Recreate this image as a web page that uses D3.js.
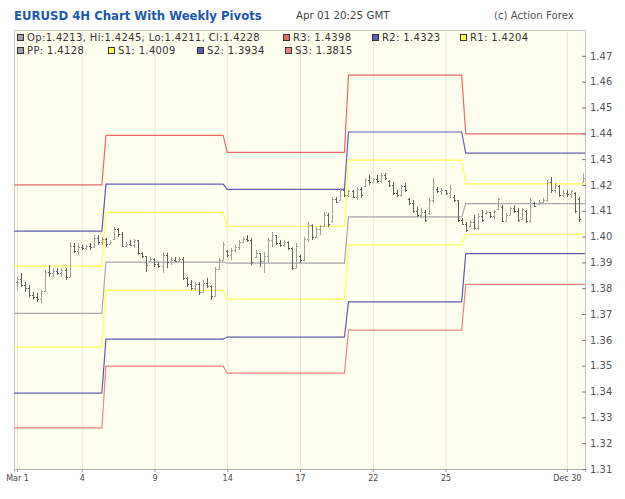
<!DOCTYPE html>
<html>
<head>
<meta charset="utf-8">
<script src="https://cdn.jsdelivr.net/npm/d3@7"></script>
<style>
    body { margin: 0; background: #fff; }
    text { font-family: Verdana, "DejaVu Sans", sans-serif; }
</style>
</head>
<body>
<div id="chart"></div>
<script>
// 4H bars: [open, high, low, close]
var bars = [
    [1.3825,1.3844,1.3793,1.3836],[1.3836,1.3859,1.3805,1.3812],[1.3812,1.3824,1.3786,1.3800],[1.3800,1.3813,1.3766,1.3772],
    [1.3772,1.3786,1.3755,1.3765],[1.3765,1.3782,1.3747,1.3760],[1.3760,1.3793,1.3743,1.3788],[1.3788,1.3871,1.3786,1.3862],
    [1.3862,1.3890,1.3844,1.3858],[1.3858,1.3878,1.3844,1.3865],[1.3865,1.3878,1.3851,1.3860],[1.3860,1.3878,1.3844,1.3870],
    [1.3870,1.3878,1.3832,1.3845],[1.3845,1.3979,1.3840,1.3965],[1.3965,1.3975,1.3937,1.3945],[1.3945,1.3975,1.3929,1.3960],
    [1.3960,1.3968,1.3948,1.3955],[1.3955,1.3968,1.3948,1.3962],[1.3962,1.3975,1.3948,1.3958],[1.3958,1.4006,1.3956,1.3995],
    [1.3995,1.4006,1.3968,1.3980],[1.3980,1.3999,1.3968,1.3990],[1.3990,1.3995,1.3960,1.3970],[1.3970,1.3987,1.3968,1.3980],
    [1.3990,1.4037,1.3987,1.4030],[1.4030,1.4033,1.3999,1.4010],[1.4010,1.4018,1.3960,1.3965],[1.3965,1.3979,1.3960,1.3970],
    [1.3970,1.3987,1.3964,1.3968],[1.3968,1.3991,1.3956,1.3985],[1.3985,1.3987,1.3929,1.3935],[1.3935,1.3940,1.3917,1.3925],
    [1.3925,1.3925,1.3863,1.3890],[1.3905,1.3921,1.3902,1.3915],[1.3915,1.3917,1.3882,1.3895],[1.3895,1.3902,1.3878,1.3885],
    [1.3885,1.3940,1.3859,1.3930],[1.3930,1.3937,1.3878,1.3900],[1.3900,1.3921,1.3890,1.3910],[1.3910,1.3921,1.3902,1.3905],
    [1.3905,1.3921,1.3902,1.3915],[1.3915,1.3921,1.3832,1.3840],[1.3840,1.3844,1.3805,1.3815],[1.3815,1.3832,1.3793,1.3800],
    [1.3800,1.3824,1.3793,1.3815],[1.3815,1.3824,1.3774,1.3785],[1.3785,1.3832,1.3783,1.3820],[1.3820,1.3840,1.3801,1.3810],
    [1.3810,1.3812,1.3755,1.3770],[1.3770,1.3882,1.3768,1.3875],[1.3875,1.3917,1.3871,1.3910],[1.3910,1.3979,1.3908,1.3970],
    [1.3945,1.3948,1.3921,1.3930],[1.3930,1.3956,1.3909,1.3950],[1.3950,1.3968,1.3937,1.3960],[1.3960,1.3987,1.3948,1.3980],
    [1.3980,1.3999,1.3975,1.3990],[1.3990,1.4006,1.3979,1.3985],[1.3985,1.3995,1.3890,1.3900],[1.3920,1.3948,1.3917,1.3935],
    [1.3935,1.3937,1.3882,1.3905],[1.3905,1.3940,1.3859,1.3925],[1.3925,1.3995,1.3898,1.3985],[1.3985,1.4018,1.3960,1.4005],
    [1.4005,1.4006,1.3968,1.3975],[1.3975,1.3987,1.3960,1.3968],[1.3968,1.3987,1.3960,1.3980],[1.3980,1.3982,1.3948,1.3955],
    [1.3955,1.3958,1.3871,1.3880],[1.3880,1.3975,1.3878,1.3965],[1.3925,1.3929,1.3898,1.3910],[1.3910,1.3999,1.3905,1.3990],
    [1.3990,1.4057,1.3979,1.4045],[1.4045,1.4048,1.3987,1.4000],[1.4000,1.4037,1.3995,1.4030],[1.4030,1.4045,1.4006,1.4040],
    [1.4040,1.4095,1.4037,1.4085],[1.4085,1.4091,1.4037,1.4050],[1.4060,1.4153,1.4053,1.4145],[1.4145,1.4153,1.4130,1.4135],
    [1.4140,1.4188,1.4138,1.4180],[1.4180,1.4192,1.4153,1.4160],[1.4160,1.4181,1.4153,1.4175],[1.4175,1.4181,1.4150,1.4155],
    [1.4155,1.4192,1.4142,1.4185],[1.4185,1.4192,1.4150,1.4160],[1.4195,1.4227,1.4192,1.4220],[1.4220,1.4239,1.4200,1.4210],
    [1.4210,1.4227,1.4208,1.4222],[1.4222,1.4239,1.4208,1.4215],[1.4215,1.4246,1.4208,1.4240],[1.4240,1.4246,1.4219,1.4225],
    [1.4215,1.4219,1.4192,1.4200],[1.4200,1.4212,1.4161,1.4170],[1.4170,1.4181,1.4153,1.4160],[1.4160,1.4200,1.4153,1.4195],
    [1.4195,1.4208,1.4173,1.4180],[1.4145,1.4150,1.4122,1.4130],[1.4130,1.4142,1.4091,1.4100],[1.4100,1.4115,1.4076,1.4085],
    [1.4085,1.4111,1.4072,1.4095],[1.4095,1.4103,1.4057,1.4065],[1.4090,1.4150,1.4084,1.4140],[1.4140,1.4227,1.4130,1.4210],
    [1.4185,1.4192,1.4169,1.4175],[1.4175,1.4188,1.4161,1.4180],[1.4180,1.4181,1.4161,1.4170],[1.4170,1.4200,1.4150,1.4190],
    [1.4155,1.4161,1.4134,1.4140],[1.4140,1.4142,1.4057,1.4065],[1.4065,1.4072,1.4045,1.4050],[1.4050,1.4057,1.4018,1.4025],
    [1.4040,1.4064,1.4037,1.4055],[1.4055,1.4084,1.4026,1.4035],[1.4035,1.4091,1.4026,1.4080],[1.4080,1.4103,1.4057,1.4065],
    [1.4090,1.4103,1.4084,1.4095],[1.4095,1.4095,1.4072,1.4080],[1.4080,1.4103,1.4064,1.4100],[1.4105,1.4150,1.4103,1.4145],
    [1.4115,1.4122,1.4057,1.4060],[1.4060,1.4091,1.4057,1.4085],[1.4085,1.4115,1.4084,1.4110],[1.4110,1.4122,1.4091,1.4100],
    [1.4100,1.4111,1.4057,1.4065],[1.4070,1.4111,1.4068,1.4105],[1.4100,1.4103,1.4053,1.4060],[1.4060,1.4150,1.4053,1.4140],
    [1.4130,1.4134,1.4115,1.4120],[1.4125,1.4142,1.4122,1.4135],[1.4135,1.4150,1.4130,1.4140],[1.4140,1.4219,1.4134,1.4210],
    [1.4210,1.4231,1.4169,1.4180],[1.4180,1.4208,1.4169,1.4200],[1.4195,1.4200,1.4153,1.4160],[1.4160,1.4181,1.4153,1.4170],
    [1.4170,1.4181,1.4153,1.4165],[1.4165,1.4181,1.4150,1.4175],[1.4170,1.4172,1.4091,1.4100],[1.4145,1.4153,1.4057,1.4070],
    [1.4213,1.4245,1.4211,1.4228]
];

// weekly pivot levels, one value per week, weeks begin at these bar numbers
var weekStarts = [0, 22, 52, 82, 111];
var r3 = [1.4200, 1.4392, 1.4326, 1.4625, 1.4398];
var r2 = [1.4021, 1.4203, 1.4183, 1.4405, 1.4323];
var r1 = [1.3886, 1.4094, 1.4040, 1.4296, 1.4204];
var pp = [1.3703, 1.3901, 1.3897, 1.4076, 1.4128];
var s1 = [1.3572, 1.3792, 1.3758, 1.3968, 1.4009];
var s2 = [1.3394, 1.3603, 1.3611, 1.3747, 1.3934];
var s3 = [1.3259, 1.3498, 1.3471, 1.3638, 1.3815];

var xTickBars = [0, 16, 34, 52, 70, 88, 106, 136];
var xTickLabels = ["Mar 1", "4", "9", "14", "17", "22", "25", "Dec 30"];
var yTicks = [1.31, 1.32, 1.33, 1.34, 1.35, 1.36, 1.37, 1.38, 1.39, 1.40, 1.41, 1.42, 1.43, 1.44, 1.45, 1.46, 1.47];

var pivotNames = ["R3", "R2", "R1", "PP", "S1", "S2", "S3"];
var pivotColors = {R3: "#e86868", R2: "#5c5cb0", R1: "#ffff50", PP: "#a8a8a8", S1: "#ffff50", S2: "#5c5cb0", S3: "#f08080"};


var drawChart = function () {
    var width = 625, height = 499;
    var plot = {left: 14, right: 585, top: 30, bottom: 469};

    var svg = d3.select("#chart").append("svg")
        .attr("width", width)
        .attr("height", height);

    var x = d3.scaleLinear().domain([-0.74, 140.5]).range([plot.left, plot.right]);
    var y = d3.scaleLinear().domain([1.31, 1.48]).range([plot.bottom, plot.top]);

    // plot background
    svg.append("rect")
        .attr("x", plot.left + 0.5).attr("y", plot.top + 0.5)
        .attr("width", plot.right - plot.left).attr("height", plot.bottom - plot.top)
        .attr("fill", "#fffff0")
        .attr("stroke", "#c8c8c8");

    // vertical gridlines
    svg.append("g")
        .attr("class", "grid")
        .attr("transform", "translate(0," + plot.bottom + ")")
        .call(d3.axisBottom(x).tickValues(xTickBars).tickSize(-(plot.bottom - plot.top)).tickFormat(""))
        .call(function (g) { g.select(".domain").remove(); })
        .selectAll("line").attr("stroke", "#e4e4dc");

    // X axis
    var xAxis = svg.append("g")
        .attr("transform", "translate(0," + plot.bottom + ")")
        .call(d3.axisBottom(x).tickValues(xTickBars).tickSize(3).tickPadding(3)
            .tickFormat(function (d, i) { return xTickLabels[i]; }));
    xAxis.select(".domain").attr("stroke", "#b0b0b0");
    xAxis.selectAll("line").attr("stroke", "#999");
    xAxis.selectAll("text").attr("fill", "#444").attr("font-size", "8px")
        .style("font-family", "'DejaVu Sans', sans-serif");

    // Y axis on the right
    var yAxis = svg.append("g")
        .attr("transform", "translate(" + (plot.right - 3) + ",0)")
        .call(d3.axisRight(y).tickValues(yTicks).tickSize(4).tickPadding(4).tickFormat(d3.format(".2f")));
    yAxis.select(".domain").remove();
    yAxis.selectAll("line").attr("stroke", "#777");
    yAxis.selectAll("text").attr("fill", "#555").attr("font-size", "10px")
        .style("font-family", "'DejaVu Sans', sans-serif");

    // pivot step lines
    var levels = {R3: r3, R2: r2, R1: r1, PP: pp, S1: s1, S2: s2, S3: s3};

    var stepPoints = function (vals) {
        var pts = [];
        for (var w = 0; w < weekStarts.length; w++) {
            var start = w === 0 ? x.domain()[0] : weekStarts[w];
            var end = w < weekStarts.length - 1 ? weekStarts[w + 1] - 1 : x.domain()[1];
            pts.push([start, vals[w]]);
            pts.push([end, vals[w]]);
        }
        return pts;
    };

    var pivotLine = d3.line()
        .x(function (d) { return x(d[0]); })
        .y(function (d) { return y(d[1]); });

    svg.append("g").selectAll("path")
        .data(pivotNames)
        .enter().append("path")
        .attr("fill", "none")
        .attr("stroke", function (d) { return pivotColors[d]; })
        .attr("stroke-width", 1.2)
        .attr("d", function (d) { return pivotLine(stepPoints(levels[d])); });

    // OHLC bars
    var barG = svg.append("g").selectAll("g")
        .data(bars)
        .enter().append("g")
        .attr("stroke", function (d) { return d[3] >= d[0] ? "#a0a0a0" : "#606060"; })
        .attr("stroke-width", 1);

    var bx = function (d, i) { return Math.round(x(i)) + 0.5; };

    barG.append("line")
        .attr("x1", bx).attr("x2", bx)
        .attr("y1", function (d) { return y(d[1]); })
        .attr("y2", function (d) { return y(d[2]); });

    barG.append("line")
        .attr("x1", function (d, i) { return bx(d, i) - 1.5; })
        .attr("x2", bx)
        .attr("y1", function (d) { return Math.round(y(d[0])) + 0.5; })
        .attr("y2", function (d) { return Math.round(y(d[0])) + 0.5; });

    barG.append("line")
        .attr("x1", bx)
        .attr("x2", function (d, i) { return bx(d, i) + 1.5; })
        .attr("y1", function (d) { return Math.round(y(d[3])) + 0.5; })
        .attr("y2", function (d) { return Math.round(y(d[3])) + 0.5; });

    // title and header
    svg.append("text")
        .attr("x", 14).attr("y", 20)
        .attr("fill", "#1c58b0")
        .attr("font-size", "11.7px")
        .attr("font-weight", "bold")
        .text("EURUSD 4H Chart With Weekly Pivots");

    svg.append("text")
        .attr("x", 296).attr("y", 19)
        .attr("fill", "#444")
        .attr("font-size", "10.3px")
        .text("Apr 01 20:25 GMT");

    svg.append("text")
        .attr("x", 494).attr("y", 19)
        .attr("fill", "#555")
        .attr("font-size", "10.2px")
        .text("(c) Action Forex");

    // legend
    var last = bars[bars.length - 1];
    var fmt = d3.format(".4f");
    var legendItems = [
        {row: 0, x: 17, color: "#a0a0a0", label: "Op:" + fmt(last[0]) + ", Hi:" + fmt(last[1]) + ", Lo:" + fmt(last[2]) + ", Cl:" + fmt(last[3])},
        {row: 0, x: 283, color: pivotColors.R3, label: "R3: " + fmt(r3[4])},
        {row: 0, x: 372, color: pivotColors.R2, label: "R2: " + fmt(r2[4])},
        {row: 0, x: 460, color: pivotColors.R1, label: "R1: " + fmt(r1[4])},
        {row: 1, x: 17, color: "#a0a0a0", label: "PP: " + fmt(pp[4])},
        {row: 1, x: 108, color: pivotColors.S1, label: "S1: " + fmt(s1[4])},
        {row: 1, x: 197, color: pivotColors.S2, label: "S2: " + fmt(s2[4])},
        {row: 1, x: 285, color: pivotColors.S3, label: "S3: " + fmt(s3[4])}
    ];

    var legend = svg.append("g").selectAll("g")
        .data(legendItems)
        .enter().append("g")
        .attr("transform", function (d) { return "translate(" + d.x + "," + (34 + d.row * 13) + ")"; });

    legend.append("rect")
        .attr("x", 0.5).attr("y", 0.5)
        .attr("width", 6).attr("height", 6)
        .attr("fill", function (d) { return d.color; })
        .attr("stroke", "#333");

    legend.append("text")
        .attr("x", 10).attr("y", 7)
        .attr("fill", "#333")
        .attr("font-size", "10px")
        .attr("letter-spacing", "0.35px")
        .text(function (d) { return d.label; });
};

drawChart();
</script>
</body>
</html>
